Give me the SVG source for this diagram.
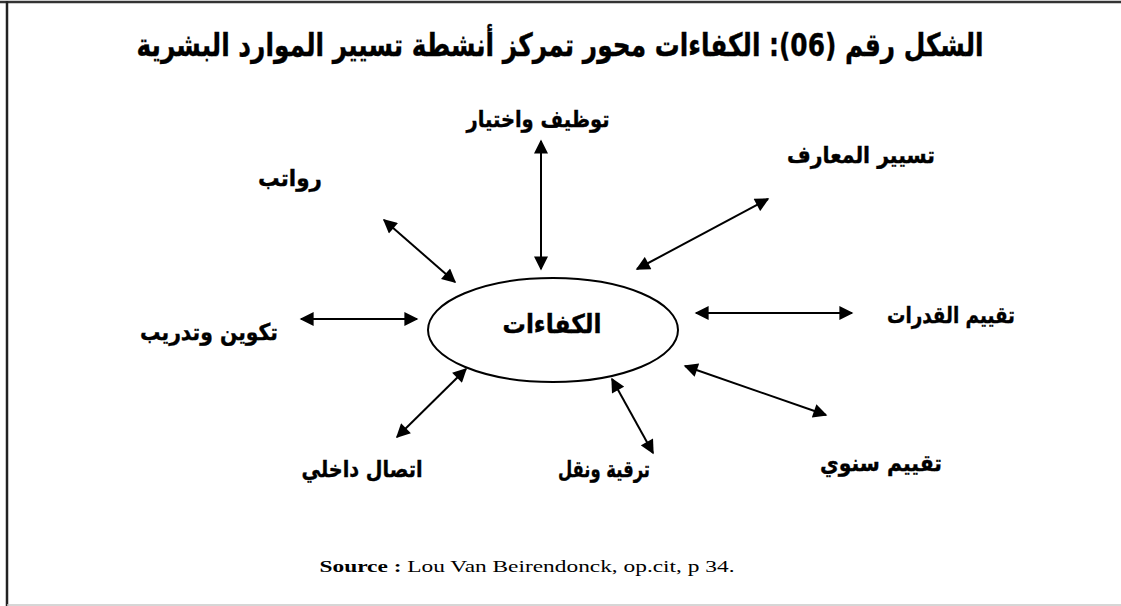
<svg xmlns="http://www.w3.org/2000/svg" width="1121" height="606" viewBox="0 0 1121 606">
  <style>
    .ar { font-family: "DejaVu Sans", "Noto Sans", sans-serif; font-weight: bold; fill: #000; stroke: #000; stroke-width: 0.4; direction: rtl; }
    .lbl { font-size: 23px; }
    .conn line { stroke: #000; stroke-width: 2; fill: none; }
    .src { font-family: "Liberation Serif", "Times New Roman", serif; font-size: 17px; fill: #000; }
  </style>
  <defs>
    <marker id="ah" viewBox="0 0 10 10" markerUnits="userSpaceOnUse" markerWidth="15" markerHeight="14" refX="9" refY="5" orient="auto-start-reverse">
      <path d="M0,0 L10,5 L0,10 z" fill="#000"/>
    </marker>
  </defs>
  <rect x="0" y="0" width="1121" height="606" fill="#fff"/>
  <!-- frame -->
  <line x1="0" y1="2" x2="1121" y2="2" stroke="#333" stroke-width="2.5"/>
  <line x1="7" y1="1" x2="7" y2="606" stroke="#222" stroke-width="2.5"/>
  <line x1="7" y1="605" x2="1121" y2="605" stroke="#c8c8c8" stroke-width="1.5"/>

  <g id="title">
    <text class="ar" x="560" y="56" font-size="32" text-anchor="middle" textLength="847" lengthAdjust="spacingAndGlyphs">الشكل رقم (06): الكفاءات محور تمركز أنشطة تسيير الموارد البشرية</text>
  </g>

  <g id="conn" class="conn">
    <line x1="541" y1="141" x2="541" y2="269" marker-start="url(#ah)" marker-end="url(#ah)"/>
    <line x1="384" y1="220" x2="455" y2="282" marker-start="url(#ah)" marker-end="url(#ah)"/>
    <line x1="768" y1="199" x2="637" y2="269" marker-start="url(#ah)" marker-end="url(#ah)"/>
    <line x1="301" y1="319" x2="417" y2="319" marker-start="url(#ah)" marker-end="url(#ah)"/>
    <line x1="696" y1="313" x2="852" y2="313" marker-start="url(#ah)" marker-end="url(#ah)"/>
    <line x1="685" y1="366" x2="826" y2="415" marker-start="url(#ah)" marker-end="url(#ah)"/>
    <line x1="466" y1="369" x2="397" y2="437" marker-start="url(#ah)" marker-end="url(#ah)"/>
    <line x1="612" y1="379" x2="653" y2="453" marker-start="url(#ah)" marker-end="url(#ah)"/>
  </g>

  <g id="center">
    <ellipse cx="553" cy="330" rx="125" ry="52" fill="#fff" stroke="#000" stroke-width="2"/>
    <text class="ar" x="552" y="333" font-size="26" text-anchor="middle" textLength="99" lengthAdjust="spacingAndGlyphs">الكفاءات</text>
  </g>

  <g id="n-recruit"><text class="ar lbl" x="538" y="127" text-anchor="middle" textLength="143" lengthAdjust="spacingAndGlyphs">توظيف واختيار</text></g>
  <g id="n-salary"><text class="ar lbl" x="290" y="186" text-anchor="middle" textLength="64" lengthAdjust="spacingAndGlyphs">رواتب</text></g>
  <g id="n-knowledge"><text class="ar lbl" x="861" y="163" text-anchor="middle" textLength="148" lengthAdjust="spacingAndGlyphs">تسيير المعارف</text></g>
  <g id="n-training"><text class="ar lbl" x="209" y="340" text-anchor="middle" textLength="138" lengthAdjust="spacingAndGlyphs">تكوين وتدريب</text></g>
  <g id="n-abilities"><text class="ar lbl" x="951" y="323" text-anchor="middle" textLength="128" lengthAdjust="spacingAndGlyphs">تقييم القدرات</text></g>
  <g id="n-annual"><text class="ar lbl" x="881" y="471" text-anchor="middle" textLength="122" lengthAdjust="spacingAndGlyphs">تقييم سنوي</text></g>
  <g id="n-comm"><text class="ar lbl" x="362" y="477" text-anchor="middle" textLength="121" lengthAdjust="spacingAndGlyphs">اتصال داخلي</text></g>
  <g id="n-promo"><text class="ar lbl" x="604" y="477" text-anchor="middle" textLength="92" lengthAdjust="spacingAndGlyphs">ترقية ونقل</text></g>

  <g id="source">
    <text class="src" x="527" y="572" text-anchor="middle" textLength="415" lengthAdjust="spacingAndGlyphs"><tspan font-weight="bold">Source :</tspan> Lou Van Beirendonck, op.cit, p 34.</text>
  </g>
</svg>
